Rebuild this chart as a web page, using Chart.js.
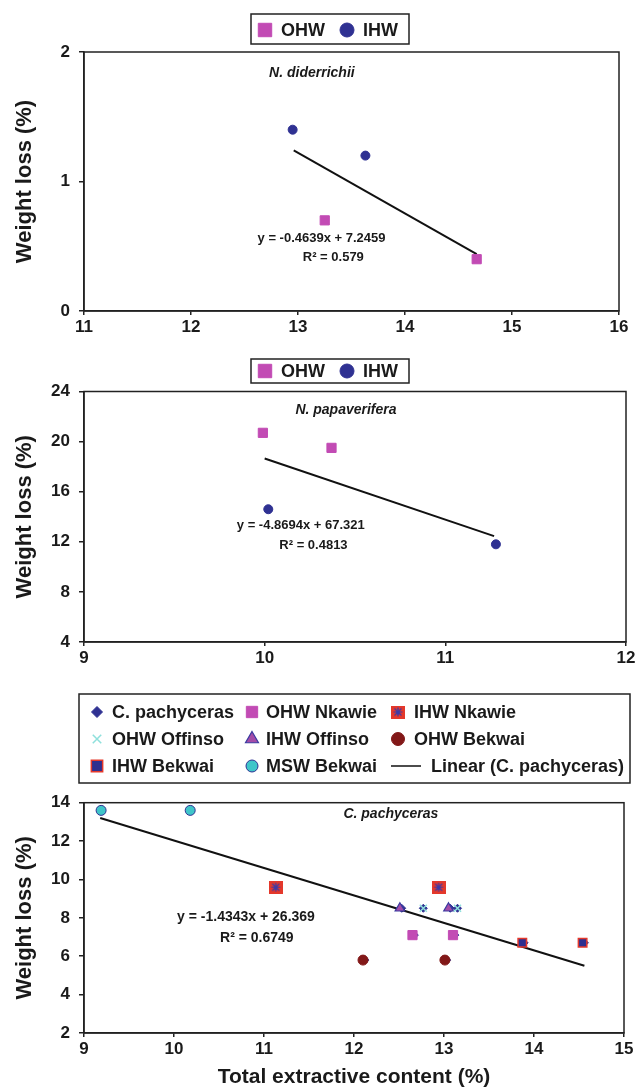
<!DOCTYPE html>
<html>
<head>
<meta charset="utf-8">
<script src="https://cdn.jsdelivr.net/npm/chart.js@4/dist/chart.umd.min.js"></script>
<style>
  body { margin: 0; background: #fff; width: 638px; height: 1090px; overflow: hidden; }
  .box { position: absolute; left: 0; width: 638px; }
</style>
</head>
<body>
<div class="box" style="top:0px"><canvas id="c1" width="638" height="340"></canvas></div>
<div class="box" style="top:340px"><canvas id="c2" width="638" height="330"></canvas></div>
<div class="box" style="top:670px"><canvas id="c3" width="638" height="420"></canvas></div>
<script>
// ---- N. diderrichii ----
var ndOhwX = [13.25, 14.67];
var ndOhwY = [0.7, 0.4];
var ndIhwX = [12.95, 13.63];
var ndIhwY = [1.4, 1.2];
var ndTrendX = [12.96, 14.67];
var ndTrendY = [1.24, 0.44];
var ndXTicks = [11, 12, 13, 14, 15, 16];
var ndYTicks = [0, 1, 2];

// ---- N. papaverifera ----
var npOhwX = [9.99, 10.37];
var npOhwY = [20.7, 19.5];
var npIhwX = [10.02, 11.28];
var npIhwY = [14.6, 11.8];
var npTrendX = [10.0, 11.27];
var npTrendY = [18.65, 12.45];
var npXTicks = [9, 10, 11, 12];
var npYTicks = [4, 8, 12, 16, 20, 24];

// ---- C. pachyceras ----
var cpAllX = [12.67, 13.12, 11.13, 12.94, 12.77, 13.15, 12.53, 13.07, 12.12, 13.03, 13.89, 14.56, 9.19, 10.18];
var cpAllY = [7.1, 7.1, 9.6, 9.6, 8.5, 8.5, 8.5, 8.5, 5.8, 5.8, 6.7, 6.7, 13.6, 13.6];
var ohwNkawieX = [12.65, 13.1];
var ohwNkawieY = [7.1, 7.1];
var ihwNkawieX = [11.13, 12.94];
var ihwNkawieY = [9.6, 9.6];
var ohwOffinsoX = [12.77, 13.15];
var ohwOffinsoY = [8.5, 8.5];
var ihwOffinsoX = [12.51, 13.05];
var ihwOffinsoY = [8.5, 8.5];
var ohwBekwaiX = [12.1, 13.01];
var ohwBekwaiY = [5.8, 5.8];
var ihwBekwaiX = [13.87, 14.54];
var ihwBekwaiY = [6.7, 6.7];
var mswBekwaiX = [9.19, 10.18];
var mswBekwaiY = [13.6, 13.6];
var cpTrendX = [9.18, 14.56];
var cpTrendY = [13.2, 5.5];
var cpXTicks = [9, 10, 11, 12, 13, 14, 15];
var cpYTicks = [2, 4, 6, 8, 10, 12, 14];

var FONT = '"Liberation Sans", Arial, Helvetica, sans-serif';
var NAVY = '#2f3192';
var PINK = '#c24bb4';
var INK = '#1a1a1a';

function pts(xs, ys) {
    return xs.map(function(x, i) { return {x: x, y: ys[i]}; });
}

// red square with a blue asterisk (IHW Nkawie marker)
function starSquare() {
    var c = document.createElement('canvas');
    c.width = 14; c.height = 13;
    var g = c.getContext('2d');
    g.fillStyle = '#e4382b';
    g.fillRect(0, 0, 14, 13);
    g.strokeStyle = '#3b3ba8';
    g.lineWidth = 1.2;
    g.beginPath();
    g.moveTo(7, 2); g.lineTo(7, 11);
    g.moveTo(2.5, 6.5); g.lineTo(11.5, 6.5);
    g.moveTo(3.5, 3); g.lineTo(10.5, 10);
    g.moveTo(10.5, 3); g.lineTo(3.5, 10);
    g.stroke();
    return c;
}

var boxLegend = {
    id: 'boxLegend',
    afterDraw: function(chart, args, opts) {
        var ctx = chart.ctx;
        ctx.save();
        ctx.strokeStyle = '#222';
        ctx.lineWidth = 1.5;
        ctx.strokeRect(opts.box[0], opts.box[1], opts.box[2], opts.box[3]);
        opts.items.forEach(function(it) {
            var ds = chart.data.datasets[it.ds];
            if (ds.showLine) {
                ctx.strokeStyle = ds.borderColor;
                ctx.lineWidth = 1.5;
                ctx.beginPath();
                ctx.moveTo(it.mx - 15, it.y);
                ctx.lineTo(it.mx + 15, it.y);
                ctx.stroke();
            } else {
                ctx.fillStyle = ds.backgroundColor;
                ctx.strokeStyle = ds.borderColor;
                ctx.lineWidth = ds.borderWidth;
                Chart.helpers.drawPoint(ctx, {
                    pointStyle: ds.pointStyle, radius: it.r, rotation: 0,
                    borderWidth: ds.borderWidth
                }, it.mx, it.y);
            }
            ctx.fillStyle = INK;
            ctx.font = 'bold 18px ' + FONT;
            ctx.textBaseline = 'middle';
            ctx.textAlign = 'left';
            ctx.fillText(ds.label, it.tx, it.y + 1);
        });
        ctx.restore();
    }
};

var notes = {
    id: 'notes',
    afterDraw: function(chart, args, opts) {
        var ctx = chart.ctx;
        var xs = chart.scales.x, ys = chart.scales.y;
        ctx.save();
        ctx.fillStyle = INK;
        ctx.textAlign = 'center';
        ctx.textBaseline = 'middle';
        opts.list.forEach(function(n) {
            ctx.font = n.font + ' ' + FONT;
            ctx.fillText(n.text, xs.getPixelForValue(n.x), ys.getPixelForValue(n.y));
        });
        // plot frame
        var a = chart.chartArea;
        ctx.strokeStyle = '#222';
        ctx.lineWidth = 1.5;
        ctx.strokeRect(a.left, a.top, a.right - a.left, a.bottom - a.top);
        ctx.restore();
    }
};

function axes(xTicks, yTicks, xh, xTitle) {
    var tickFont = {family: FONT, size: 17, weight: 'bold'};
    return {
        x: {
            type: 'linear', min: xTicks[0], max: xTicks[xTicks.length - 1],
            afterBuildTicks: function(s) { s.ticks = xTicks.map(function(v) { return {value: v}; }); },
            afterFit: function(s) { s.height = xh; },
            grid: {drawOnChartArea: false, tickLength: 4, color: '#222', lineWidth: 1.5},
            border: {color: '#222', width: 1.5},
            ticks: {font: tickFont, color: INK, padding: 2, maxRotation: 0},
            title: {display: !!xTitle, text: xTitle || '', color: INK,
                    font: {family: FONT, size: 21, weight: 'bold'}, padding: {top: 0, bottom: 0}}
        },
        y: {
            type: 'linear', min: yTicks[0], max: yTicks[yTicks.length - 1],
            afterBuildTicks: function(s) { s.ticks = yTicks.map(function(v) { return {value: v}; }); },
            afterFit: function(s) { s.width = 84; },
            grid: {drawOnChartArea: false, tickLength: 5, color: '#222', lineWidth: 1.5},
            border: {color: '#222', width: 1.5},
            ticks: {font: tickFont, color: INK, padding: 9},
            title: {display: true, text: 'Weight loss (%)', color: INK,
                    font: {family: FONT, size: 22, weight: 'bold'}, padding: {top: 12, bottom: 0}}
        }
    };
}

function trend(xs, ys) {
    return {label: 'Linear', data: pts(xs, ys), showLine: true, pointRadius: 0,
            borderColor: '#111', borderWidth: 2, backgroundColor: '#111', order: 5};
}

function baseOptions(xTicks, yTicks, xh, xTitle, pad) {
    return {
        responsive: false, animation: false, devicePixelRatio: 1,
        layout: {padding: pad},
        scales: axes(xTicks, yTicks, xh, xTitle),
        plugins: {legend: {display: false}, tooltip: {enabled: false}}
    };
}

// ---------- chart 1 ----------
var opt1 = baseOptions(ndXTicks, ndYTicks, 29, null, {top: 52, right: 19, left: 0, bottom: 0});
opt1.plugins.boxLegend = {box: [251, 14, 158, 30], items: [
    {ds: 0, mx: 265, tx: 281, y: 30, r: 9.5},
    {ds: 1, mx: 347, tx: 363, y: 30, r: 7}
]};
opt1.plugins.notes = {list: [
    {text: 'N. diderrichii', x: 13.13, y: 1.84, font: 'italic bold 14px'},
    {text: 'y = -0.4639x + 7.2459', x: 13.22, y: 0.56, font: 'bold 13px'},
    {text: 'R\u00b2 = 0.579', x: 13.33, y: 0.41, font: 'bold 13px'}
]};
new Chart(document.getElementById('c1'), {
    type: 'scatter',
    data: {datasets: [
        {label: 'OHW', data: pts(ndOhwX, ndOhwY), pointStyle: 'rect', pointRadius: 6.5,
         backgroundColor: PINK, borderColor: PINK, borderWidth: 1},
        {label: 'IHW', data: pts(ndIhwX, ndIhwY), pointStyle: 'circle', pointRadius: 4.5,
         backgroundColor: NAVY, borderColor: NAVY, borderWidth: 1},
        trend(ndTrendX, ndTrendY)
    ]},
    options: opt1,
    plugins: [boxLegend, notes]
});

// ---------- chart 2 ----------
var opt2 = baseOptions(npXTicks, npYTicks, 28, null, {top: 51.5, right: 12, left: 0, bottom: 0});
opt2.plugins.boxLegend = {box: [251, 19, 158, 24], items: [
    {ds: 0, mx: 265, tx: 281, y: 31, r: 9.5},
    {ds: 1, mx: 347, tx: 363, y: 31, r: 7}
]};
opt2.plugins.notes = {list: [
    {text: 'N. papaverifera', x: 10.45, y: 22.5, font: 'italic bold 14px'},
    {text: 'y = -4.8694x + 67.321', x: 10.2, y: 13.3, font: 'bold 13px'},
    {text: 'R\u00b2 = 0.4813', x: 10.27, y: 11.75, font: 'bold 13px'}
]};
new Chart(document.getElementById('c2'), {
    type: 'scatter',
    data: {datasets: [
        {label: 'OHW', data: pts(npOhwX, npOhwY), pointStyle: 'rect', pointRadius: 6.5,
         backgroundColor: PINK, borderColor: PINK, borderWidth: 1},
        {label: 'IHW', data: pts(npIhwX, npIhwY), pointStyle: 'circle', pointRadius: 4.5,
         backgroundColor: NAVY, borderColor: NAVY, borderWidth: 1},
        trend(npTrendX, npTrendY)
    ]},
    options: opt2,
    plugins: [boxLegend, notes]
});

// ---------- chart 3 ----------
var opt3 = baseOptions(cpXTicks, cpYTicks, 57, 'Total extractive content (%)', {top: 132.7, right: 14, left: 0, bottom: 0});
opt3.plugins.boxLegend = {box: [79, 24, 551, 89], items: [
    {ds: 0, mx: 97, tx: 112, y: 42, r: 5.5},
    {ds: 1, mx: 252, tx: 266, y: 42, r: 8},
    {ds: 2, mx: 398, tx: 414, y: 42, r: 6},
    {ds: 3, mx: 97, tx: 112, y: 69, r: 6},
    {ds: 4, mx: 252, tx: 266, y: 69, r: 7.5},
    {ds: 5, mx: 398, tx: 414, y: 69, r: 6.5},
    {ds: 6, mx: 97, tx: 112, y: 96, r: 8},
    {ds: 7, mx: 252, tx: 266, y: 96, r: 6},
    {ds: 8, mx: 406, tx: 431, y: 96, r: 0}
]};
opt3.plugins.notes = {list: [
    {text: 'C. pachyceras', x: 12.41, y: 13.4, font: 'italic bold 14px'},
    {text: 'y = -1.4343x + 26.369', x: 10.8, y: 8.05, font: 'bold 14px'},
    {text: 'R\u00b2 = 0.6749', x: 10.92, y: 6.95, font: 'bold 14px'}
]};
var tri = trend(cpTrendX, cpTrendY);
tri.label = 'Linear (C. pachyceras)';
new Chart(document.getElementById('c3'), {
    type: 'scatter',
    data: {datasets: [
        {label: 'C. pachyceras', data: pts(cpAllX, cpAllY), pointStyle: 'rectRot', pointRadius: 4,
         backgroundColor: NAVY, borderColor: NAVY, borderWidth: 1, order: 10},
        {label: 'OHW Nkawie', data: pts(ohwNkawieX, ohwNkawieY), pointStyle: 'rect', pointRadius: 6.5,
         backgroundColor: PINK, borderColor: PINK, borderWidth: 1},
        {label: 'IHW Nkawie', data: pts(ihwNkawieX, ihwNkawieY), pointStyle: starSquare(),
         backgroundColor: '#e4382b', borderColor: '#3b3ba8', borderWidth: 1},
        {label: 'OHW Offinso', data: pts(ohwOffinsoX, ohwOffinsoY), pointStyle: 'crossRot', pointRadius: 5,
         backgroundColor: '#8fe0dc', borderColor: '#8fe0dc', borderWidth: 1.5},
        {label: 'IHW Offinso', data: pts(ihwOffinsoX, ihwOffinsoY), pointStyle: 'triangle', pointRadius: 5.5,
         backgroundColor: '#a44ca8', borderColor: '#3a3aa0', borderWidth: 1.2},
        {label: 'OHW Bekwai', data: pts(ohwBekwaiX, ohwBekwaiY), pointStyle: 'circle', pointRadius: 5,
         backgroundColor: '#821818', borderColor: '#821818', borderWidth: 1},
        {label: 'IHW Bekwai', data: pts(ihwBekwaiX, ihwBekwaiY), pointStyle: 'rect', pointRadius: 6,
         backgroundColor: '#2e2f8f', borderColor: '#e4382b', borderWidth: 1.5},
        {label: 'MSW Bekwai', data: pts(mswBekwaiX, mswBekwaiY), pointStyle: 'circle', pointRadius: 5,
         backgroundColor: '#3fc5c9', borderColor: NAVY, borderWidth: 1},
        tri
    ]},
    options: opt3,
    plugins: [boxLegend, notes]
});
</script>
</body>
</html>
